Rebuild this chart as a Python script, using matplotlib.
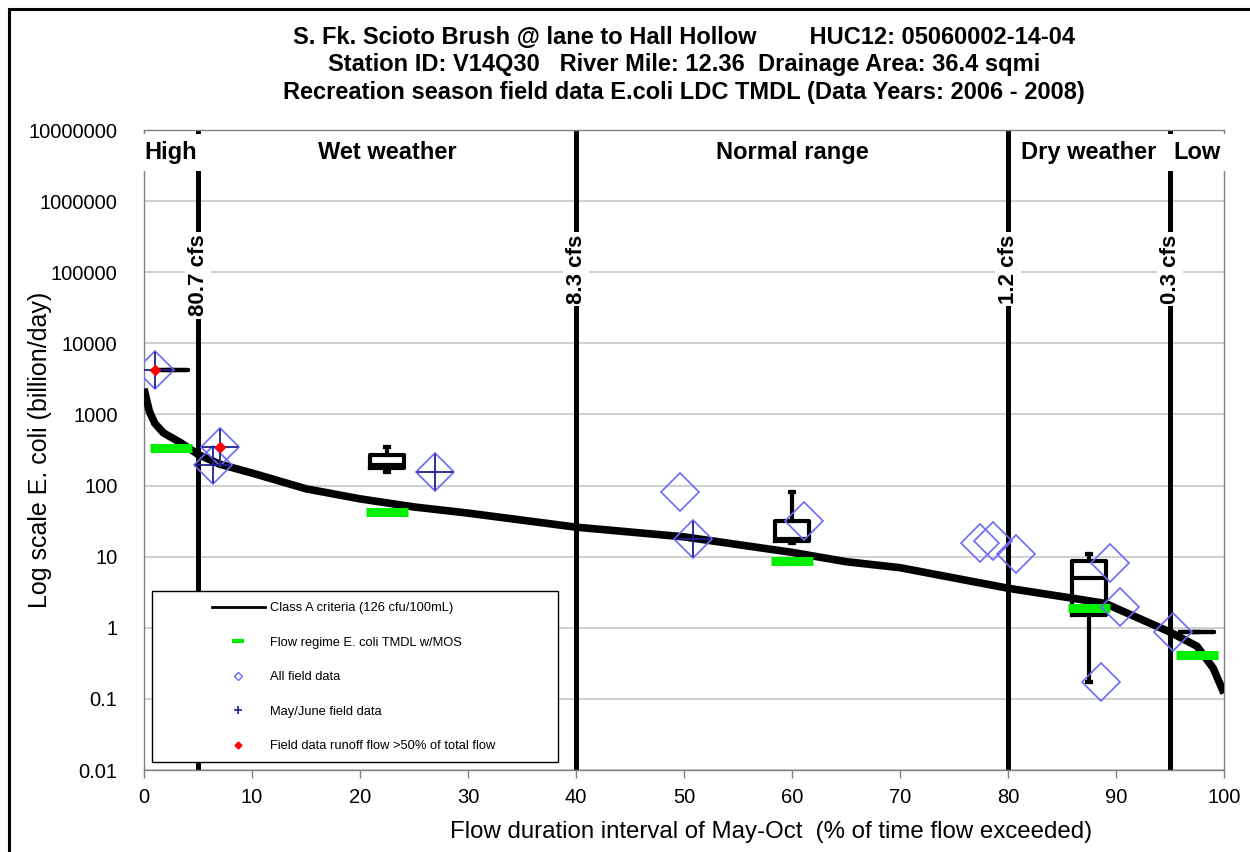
import matplotlib
matplotlib.use("Agg")
import matplotlib.pyplot as plt
import numpy as np
from matplotlib.lines import Line2D
from matplotlib.patches import Rectangle

# flow duration curve for the Class A criteria (126 cfu/100mL)
crit_x = [0, 0.5, 1, 1.8, 3.4, 5, 7, 10, 15, 20, 25, 30, 40, 50, 60, 65, 70, 80, 86, 89, 95, 97.5, 99, 100]
crit_y = [2300, 1100, 750, 550, 400, 275, 200, 150, 90, 65, 50, 41, 26, 19, 11.5, 8.5, 7, 3.6, 2.6, 2.2, 0.87, 0.55, 0.27, 0.12]

# flow regimes
region_bounds = [0, 5, 40, 80, 95, 100]
region_names = ["High", "Wet weather", "Normal range", "Dry weather", "Low"]
flow_labels = ["80.7 cfs", "8.3 cfs", "1.2 cfs", "0.3 cfs"]
tmdl_mos = [340, 42, 8.6, 1.9, 0.41]

# field samples
field_x = [1.0, 7.0, 6.4, 26.9, 49.6, 50.8, 61.1, 77.4, 78.6, 80.7, 89.4, 90.4, 88.6, 95.3]
field_y = [4200, 350, 195, 155, 81, 18, 32, 15.6, 16.6, 11, 8.1, 1.96, 0.175, 0.87]
may_june = [1, 1, 1, 1, 0, 1, 0, 0, 0, 0, 0, 0, 0, 0]
runoff = [1, 1, 0, 0, 0, 0, 0, 0, 0, 0, 0, 0, 0, 0]

x_ticks = [0, 10, 20, 30, 40, 50, 60, 70, 80, 90, 100]
y_ticks = [0.01, 0.1, 1, 10, 100, 1000, 10000, 100000, 1000000, 10000000]
y_ticklabels = ["0.01", "0.1", "1", "10", "100", "1000", "10000", "100000", "1000000", "10000000"]

title_lines = ["S. Fk. Scioto Brush @ lane to Hall Hollow        HUC12: 05060002-14-04",
               "Station ID: V14Q30   River Mile: 12.36  Drainage Area: 36.4 sqmi",
               "Recreation season field data E.coli LDC TMDL (Data Years: 2006 - 2008)"]

plt.rcParams['font.family'] = ['Liberation Sans', 'DejaVu Sans']

blue = '#6b6bf5'
navy = '#1f1f8f'
green = '#00f000'

fig = plt.figure(figsize=(12.5, 8.52), dpi=100)
ax = fig.add_axes([144/1250, 1 - 770/852, 1080/1250, 640/852])
ax.set_yscale('log')
ax.set_xlim(0, 100)
ax.set_ylim(0.01, 1e7)

ax.set_xticks(x_ticks)
ax.set_yticks(y_ticks)
ax.set_yticklabels(y_ticklabels)
ax.minorticks_off()
ax.tick_params(axis='y', length=0, pad=19, labelsize=14.5)
ax.tick_params(axis='x', length=6, width=1, color='#808080', pad=7, labelsize=14.5)
ax.grid(axis='y', color='#c8c8c8', lw=1.2, zorder=0)
ax.set_axisbelow(True)
for s in ax.spines.values():
    s.set_color('#808080')
    s.set_linewidth(1)

# regime boundaries
bounds = np.array(region_bounds)
mids = (bounds[:-1] + bounds[1:]) / 2
for b, lab in zip(bounds[1:-1], flow_labels):
    ax.axvline(b, color='k', lw=3.6, zorder=2)
    ax.text(b, 3.4e5, lab, rotation=90, ha='center', va='top', fontsize=16,
            fontweight='bold', zorder=6,
            bbox=dict(facecolor='white', edgecolor='none', pad=2))
for m, name in zip(mids, region_names):
    ax.text(m, 4.8e6, name, ha='center', va='center', fontsize=17,
            fontweight='bold', zorder=6, clip_on=False,
            bbox=dict(facecolor='white', edgecolor='none', pad=5))

# criteria curve
ax.plot(crit_x, crit_y, color='k', lw=5.5, solid_capstyle='butt', zorder=3)

# box plots of field data per regime
fx = np.array(field_x)
fy = np.array(field_y)
reg = np.digitize(fx, bounds[1:-1])
groups = [fy[reg == i] for i in range(len(region_names))]
bp = dict(color='k', lw=3)
ax.boxplot(groups, positions=mids, widths=3.2, whis=(0, 100), showfliers=False,
           manage_ticks=False, boxprops=bp, medianprops=bp, whiskerprops=bp,
           capprops=bp, capwidths=0.3, zorder=4)

# TMDL w/MOS bars
ax.hlines(tmdl_mos, mids - 1.9, mids + 1.9, color=green, lw=6.5, zorder=5)

# field points
ax.plot(fx, fy, ls='none', marker='D', ms=19, mfc='none', mec=blue, mew=1.2, zorder=7)
mj = np.array(may_june) == 1
ax.plot(fx[mj], fy[mj], ls='none', marker='+', ms=26, mec=navy, mew=1.3, zorder=8)
ro = np.array(runoff) == 1
ax.plot(fx[ro], fy[ro], ls='none', marker='D', ms=5.5, mfc='red', mec='red', zorder=9)

ax.set_xlabel("Flow duration interval of May-Oct  (% of time flow exceeded)", fontsize=17.3)
ax.xaxis.set_label_coords(0.581, -0.08)
ax.set_ylabel("Log scale E. coli (billion/day)", fontsize=18)
ax.yaxis.set_label_coords(-0.085, 0.5)

# legend
frame = Rectangle((8/1080, 8/640), 406/1080, 171/640, transform=ax.transAxes,
                  facecolor='white', edgecolor='k', lw=1, zorder=20)
ax.add_patch(frame)
handles = [Line2D([], [], color='k', lw=2),
           Line2D([], [], ls='none', marker='_', ms=8, mew=3, color=green),
           Line2D([], [], ls='none', marker='D', ms=4, mfc='none', mec=blue, mew=1),
           Line2D([], [], ls='none', marker='+', ms=6, mec=navy, mew=1.2),
           Line2D([], [], ls='none', marker='D', ms=3.5, mfc='red', mec='red')]
labels = ["Class A criteria (126 cfu/100mL)", "Flow regime E. coli TMDL w/MOS",
          "All field data", "May/June field data", "Field data runoff flow >50% of total flow"]
leg = ax.legend(handles, labels, loc='upper left', bbox_to_anchor=(68/1080, 168/640),
                frameon=False, fontsize=9.3, handlelength=4.1, handletextpad=0.4,
                labelspacing=1.74, borderpad=0, borderaxespad=0)
leg.set_zorder(21)

for i, line in enumerate(title_lines):
    fig.text(684/1250, 1 - (37 + 28*i)/852, line, ha='center', va='center',
             fontsize=17, fontweight='bold')

fig.add_artist(Rectangle((9/1250, -0.05), 1.1, 1.05 - 9/852, transform=fig.transFigure,
                         fill=False, edgecolor='k', lw=2.2, clip_on=False))

fig.savefig("out.png", dpi=100)
